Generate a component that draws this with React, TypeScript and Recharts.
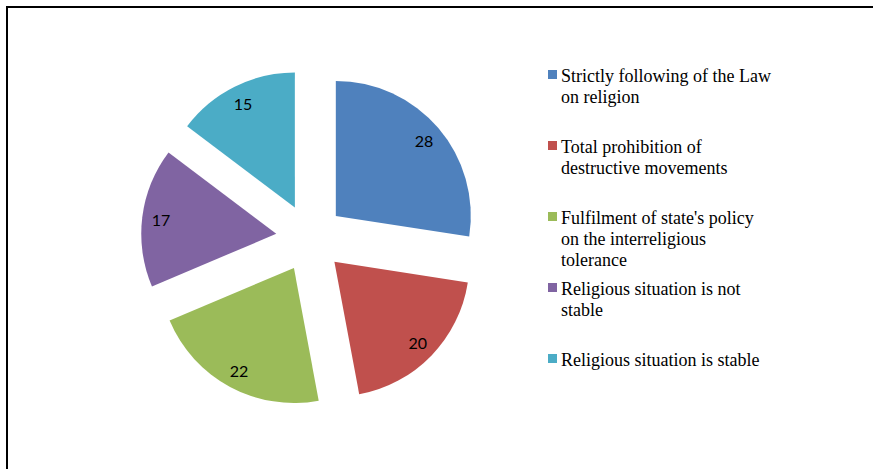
import React from 'react';
import { PieChart, Pie, Legend, Sector } from 'recharts';

const CATEGORIES = [
  'Strictly following of the Law on religion',
  'Total prohibition of destructive movements',
  "Fulfilment of state's policy on the interreligious tolerance",
  'Religious situation is not stable',
  'Religious situation is stable',
];
const VALUES = [28, 20, 22, 17, 15];
const COLORS = ['#4F81BD', '#C0504D', '#9BBB59', '#8064A2', '#4BACC6'];

const data = CATEGORIES.map((name, i) => ({ name, value: VALUES[i] }));

const RADIAN = Math.PI / 180;
const EXPLODE = 34;
const LABEL_R = 116;

const renderSlice = (props: any) => {
  const { cx, cy, innerRadius, outerRadius, startAngle, endAngle, midAngle, index, value } = props;
  const ux = Math.cos(-midAngle * RADIAN);
  const uy = Math.sin(-midAngle * RADIAN);
  const ox = cx + EXPLODE * ux;
  const oy = cy + EXPLODE * uy;
  const lx = ox + LABEL_R * ux;
  const ly = oy + LABEL_R * uy;
  return (
    <g key={`slice-${index}`}>
      <Sector
        cx={ox}
        cy={oy}
        innerRadius={innerRadius}
        outerRadius={outerRadius}
        startAngle={startAngle}
        endAngle={endAngle}
        fill={COLORS[index]}
        stroke="none"
      />
      <text
        x={lx}
        y={ly}
        textAnchor="middle"
        dominantBaseline="central"
        fill="#000"
        style={{ fontFamily: 'Lato, "Open Sans", sans-serif', fontSize: 16 }}
      >
        {value}
      </text>
    </g>
  );
};

const ITEM_SLOT = 71.1;

const renderLegend = () => (
  <div style={{ position: 'relative', width: 230, height: 330 }}>
    {data.map((d, i) => (
      <div
        key={d.name}
        style={{
          position: 'absolute',
          left: 0,
          top: i * ITEM_SLOT,
          width: 226,
          fontFamily: '"Liberation Serif", "Times New Roman", serif',
          fontSize: 18,
          lineHeight: '20.8px',
          color: '#000',
        }}
      >
        <span
          style={{
            position: 'absolute',
            left: 0,
            top: 3.5,
            width: 9,
            height: 9,
            background: COLORS[i],
          }}
        />
        <div style={{ marginLeft: 13, width: 213 }}>{d.name}</div>
      </div>
    ))}
  </div>
);

export default function App() {
  return (
    <div style={{ position: 'absolute', left: 0, top: 0, width: 873, height: 469, background: '#fff' }}>
      <div
        style={{
          position: 'absolute',
          left: 6,
          top: 6,
          right: 0,
          bottom: 0,
          borderTop: '2px solid #000',
          borderLeft: '2px solid #000',
        }}
      />
      <div style={{ position: 'absolute', left: 0, top: 0 }}>
        <PieChart width={873} height={469} margin={{ top: 0, right: 0, bottom: 0, left: 0 }}>
          <Pie
            data={data}
            dataKey="value"
            nameKey="name"
            cx={310}
            cy={238}
            outerRadius={135}
            startAngle={90}
            endAngle={-270}
            fill="transparent"
            stroke="none"
            label={renderSlice}
            labelLine={false}
            isAnimationActive={false}
          />
          <Legend
            content={renderLegend}
            wrapperStyle={{ position: 'absolute', left: 548, top: 66, width: 230, height: 330 }}
          />
        </PieChart>
      </div>
    </div>
  );
}
